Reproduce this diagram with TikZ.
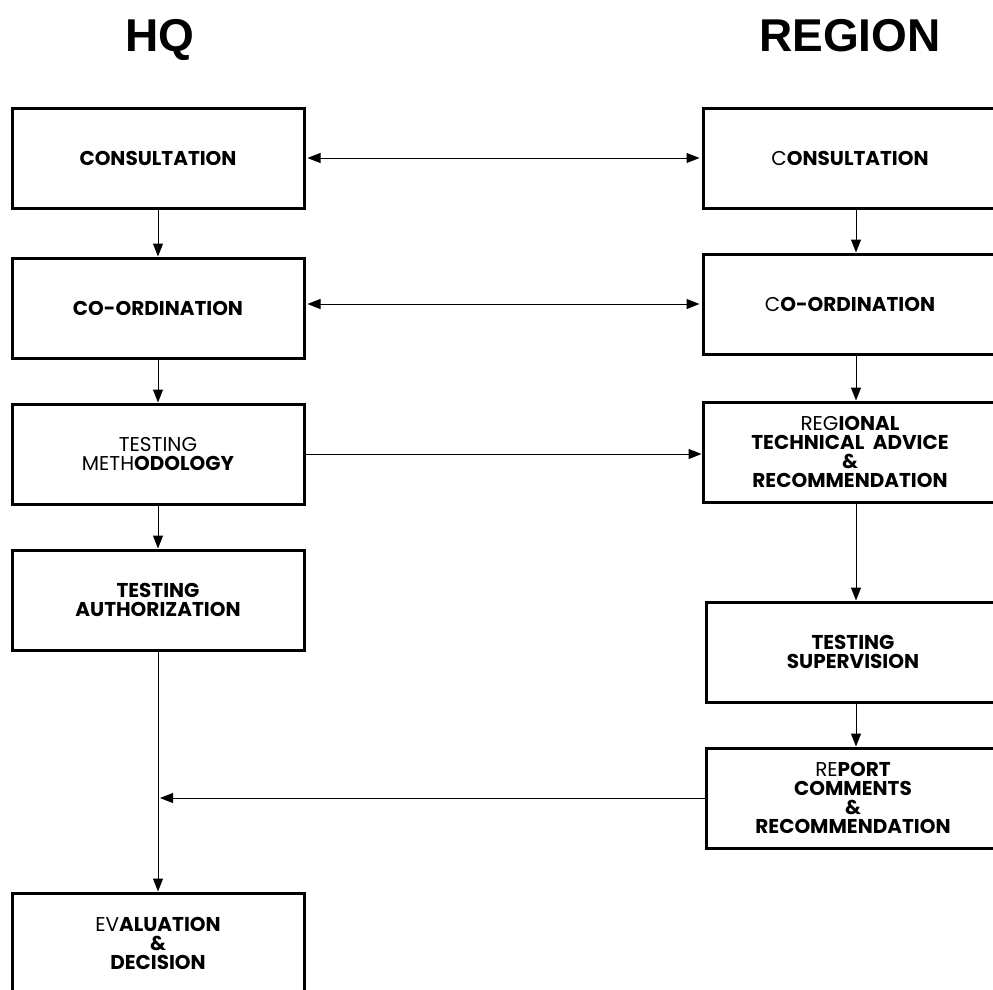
\documentclass[tikz,border=0pt]{standalone}
\usepackage{fontspec}
\setmainfont{Poppins}
\newfontfamily\headfont{Liberation Sans}
\usepackage{tikz}
\usetikzlibrary{positioning}
\usetikzlibrary{arrows.meta}
\tikzset{	node distance=43pt,
	unit/.style={
		draw,
		line width=3pt,
		minimum width=292pt,
		minimum height=100pt,
		inner sep=0pt,
		align=center,
		font=\fontsize{20}{19}\selectfont\bfseries},
	head/.style={anchor=base, font=\headfont\bfseries\fontsize{46}{46}\selectfont},
	link/.style={
		draw,
		line width=1pt,
		-{Triangle[length=13pt,width=10pt]}},
	twoway/.style={
		link,
		{Triangle[length=13pt,width=10pt]}-{Triangle[length=13pt,width=10pt]},
		shorten <=2pt,
		shorten >=2pt}
}
\newcommand{\lightpart}[1]{{\mdseries #1}}

\begin{document}
\begin{tikzpicture}[x=1pt,y=-1pt]
				\useasboundingbox (0,0) rectangle (993,990);
				\node[head] (hq) at (160,52) {HQ};
				\node[head] (region) at (850,52) {REGION};
				% HQ side
				\node[unit] (hqcons) at (158,158) {CONSULTATION};
				\node[unit, below=47pt of hqcons] (hqcoord) {CO-ORDINATION};
				\node[unit, below=of hqcoord] (hqmeth) {\lightpart{TESTING}\\\lightpart{METH}ODOLOGY};
				\node[unit, below=of hqmeth] (hqauth) {TESTING\\AUTHORIZATION};
				\node[unit, below=240pt of hqauth] (hqeval) {\lightpart{EV}ALUATION\\\&\\DECISION};
				% region side
				\node[unit, minimum width=294pt] (rgcons) at (850,158) {\lightpart{C}ONSULTATION};
				\node[unit, minimum width=294pt, below=of rgcons] (rgcoord) {\lightpart{C}O-ORDINATION};
				\node[unit, minimum width=294pt, below=45pt of rgcoord] (rgadvice) {\lightpart{REG}IONAL\\TECHNICAL\ \ ADVICE\\\&\\RECOMMENDATION};
				\node[unit, minimum width=294pt, below=97pt of rgadvice, xshift=3pt] (rgsuper) {TESTING\\SUPERVISION};
				\node[unit, minimum width=294pt, below=of rgsuper] (rgreport) {\lightpart{RE}PORT\\COMMENTS\\\&\\RECOMMENDATION};
				\coordinate (merge) at (hqauth.south |- rgreport.west);
				\draw[link] (hqcons) -- (hqcoord);
				\draw[link] (hqcoord) -- (hqmeth);
				\draw[link] (hqmeth) -- (hqauth);
				\draw[link] (hqauth) -- (hqeval);
				\draw[link] ([xshift=6pt]rgcons.south) -- ([xshift=6pt]rgcoord.north);
				\draw[link] ([xshift=6pt]rgcoord.south) -- ([xshift=6pt]rgadvice.north);
				\draw[link] ([xshift=6pt]rgadvice.south) -- ([xshift=3pt]rgsuper.north);
				\draw[link] ([xshift=3pt]rgsuper.south) -- ([xshift=3pt]rgreport.north);
				\draw[twoway] (hqcons) -- (rgcons);
				\draw[twoway] (hqcoord.east |- rgcoord.west) -- (rgcoord.west);
				\draw[link] (hqmeth) -- (hqmeth.east -| rgadvice.west);
				\draw[link, shorten >=2pt] (rgreport.west) -- (merge);
			\end{tikzpicture}
\end{document}
